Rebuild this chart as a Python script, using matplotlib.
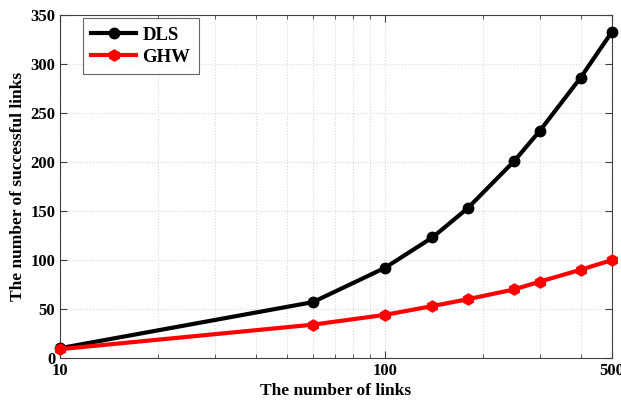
import numpy as np
import matplotlib.pyplot as plt
from matplotlib.ticker import FixedLocator, NullFormatter

# data
links = [10, 60, 100, 140, 180, 250, 300, 400, 500]
dls = [10, 57, 92, 123, 153, 201, 232, 286, 333]
ghw = [9, 34, 44, 53, 60, 70, 78, 90, 100]

x_ticks = [10, 100, 500]
y_ticks = [0, 50, 100, 150, 200, 250, 300, 350]

plt.rcParams['font.family'] = ['Liberation Serif', 'DejaVu Serif']
plt.rcParams['font.weight'] = 'bold'

fig = plt.figure(figsize=(6.21, 4.0), dpi=100)
ax = fig.add_axes([0.0966, 0.105, 0.889, 0.8575])

ax.plot(links, dls, color='black', lw=3, marker='o', ms=7.5, label='DLS', clip_on=False, zorder=3)
ax.plot(links, ghw, color='red', lw=3, marker='h', ms=8, label='GHW', clip_on=False, zorder=3)

ax.set_xscale('log')
ax.set_xlim(10, 500)
ax.set_ylim(0, 350)
ax.xaxis.set_major_locator(FixedLocator(x_ticks))
ax.xaxis.set_minor_locator(FixedLocator([20, 30, 40, 50, 60, 70, 80, 90, 200, 300, 400]))
ax.xaxis.set_minor_formatter(NullFormatter())
ax.set_xticklabels([str(v) for v in x_ticks])
ax.set_yticks(y_ticks)

ax.grid(True, which='both', color='#d8d8d8', ls=':', lw=0.8)
ax.tick_params(which='both', direction='in', top=True, right=True, labelsize=12, color='#404040')
ax.tick_params(which='major', length=5)
ax.tick_params(which='minor', length=3)
for lab in ax.get_xticklabels() + ax.get_yticklabels():
    lab.set_fontweight('bold')
for sp in ax.spines.values():
    sp.set_color('#404040')

ax.set_xlabel('The number of links', fontsize=12.5, fontweight='bold', labelpad=3)
ax.set_ylabel('The number of successful links', fontsize=12.5, fontweight='bold', labelpad=3)

leg = ax.legend(loc='upper left', bbox_to_anchor=(0.041, 0.99), borderaxespad=0, fontsize=13.5,
                fancybox=False, edgecolor='#404040', handlelength=2.4, handletextpad=0.35,
                borderpad=0.45, labelspacing=0.25)
leg.get_frame().set_linewidth(0.8)
for t in leg.get_texts():
    t.set_fontweight('bold')

fig.savefig('out.png', dpi=100)
